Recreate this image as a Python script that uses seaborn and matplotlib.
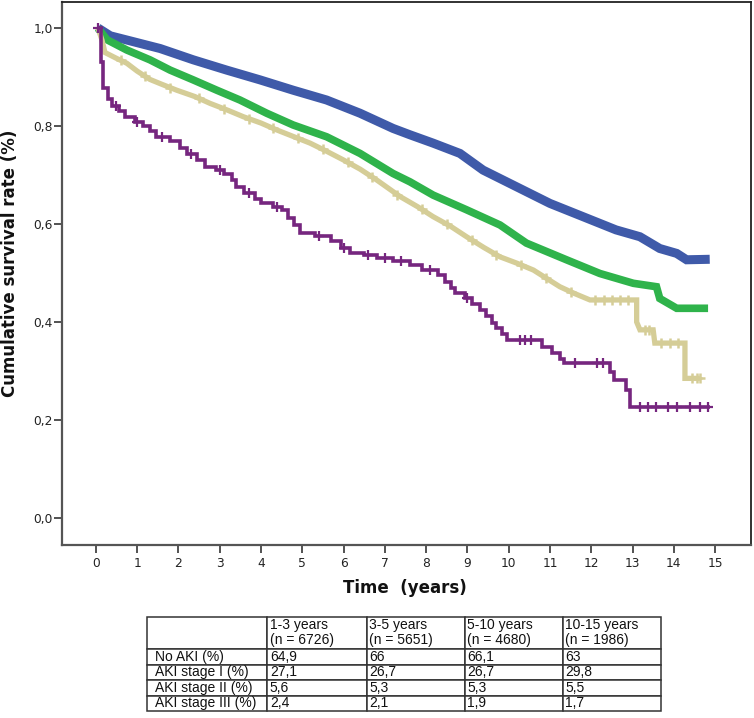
import numpy as np
import pandas as pd
import matplotlib
matplotlib.use('Agg')
import matplotlib.pyplot as plt
import seaborn as sns
from matplotlib.ticker import FuncFormatter

# ---------------- data ----------------
groups = ['No AKI', 'AKI stage I', 'AKI stage II', 'AKI stage III']
colors = ['#3f5aa9', '#2fb34b', '#d5cd97', '#76267f']

no_aki_t = [0.05, 0.35, 0.91, 1.56, 2.36, 3.17, 3.98, 4.78, 5.59, 6.40, 7.20, 7.61,
            8.17, 8.82, 9.38, 10.19, 11.00, 11.80, 12.60, 13.18, 13.66, 14.07, 14.31, 14.87]
no_aki_s = [1.000, 0.984, 0.972, 0.958, 0.935, 0.914, 0.894, 0.873, 0.853, 0.826, 0.795, 0.782,
            0.765, 0.744, 0.710, 0.676, 0.642, 0.615, 0.588, 0.574, 0.550, 0.540, 0.527, 0.528]

aki1_t = [0.05, 0.27, 0.75, 1.31, 1.80, 2.36, 2.93, 3.49, 4.14, 4.78, 5.59, 6.40, 7.20, 7.61,
          8.17, 8.98, 9.79, 10.43, 11.40, 12.21, 13.02, 13.58, 13.66, 14.07, 14.83]
aki1_s = [1.000, 0.976, 0.955, 0.935, 0.914, 0.894, 0.873, 0.853, 0.826, 0.802, 0.778, 0.744, 0.703, 0.686,
          0.659, 0.629, 0.598, 0.561, 0.527, 0.499, 0.479, 0.472, 0.448, 0.428, 0.428]

aki2_t = [0.05, 0.15, 0.22, 0.50, 0.75, 1.00, 1.31, 1.60, 1.96, 2.40, 2.77, 3.20, 3.57, 4.00,
          4.38, 4.80, 5.19, 5.60, 5.99, 6.40, 6.80, 7.37, 7.80, 8.17, 8.60, 8.98, 9.40, 9.79,
          10.20, 10.60, 10.90, 11.24, 11.60, 11.97, 13.10, 13.10, 13.18, 13.50, 13.54, 14.27,
          14.27, 14.63]
aki2_s = [1.000, 0.975, 0.950, 0.938, 0.928, 0.912, 0.895, 0.885, 0.873, 0.860, 0.846, 0.832, 0.819, 0.806,
          0.792, 0.778, 0.765, 0.748, 0.731, 0.712, 0.690, 0.656, 0.635, 0.615, 0.595, 0.574, 0.552, 0.533,
          0.520, 0.506, 0.490, 0.472, 0.458, 0.445, 0.445, 0.400, 0.384, 0.384, 0.357, 0.357,
          0.285, 0.285]

aki3_t = [0.05, 0.12, 0.18, 0.30, 0.40, 0.55, 0.70, 0.95, 1.15, 1.30, 1.45, 1.80, 2.05, 2.20,
          2.45, 2.65, 2.90, 3.10, 3.30, 3.40, 3.60, 3.85, 4.00, 4.30, 4.50, 4.65, 4.80, 4.95,
          5.30, 5.70, 5.95, 6.15, 6.50, 6.80, 7.20, 7.60, 7.90, 8.30, 8.45, 8.60, 8.70, 8.95,
          9.10, 9.30, 9.45, 9.60, 9.70, 9.85, 9.95, 10.80, 11.05, 11.25, 11.35, 12.45, 12.55,
          12.85, 12.95, 14.87]
aki3_s = [1.000, 0.930, 0.877, 0.855, 0.840, 0.830, 0.818, 0.808, 0.800, 0.790, 0.778, 0.770, 0.756, 0.742,
          0.730, 0.716, 0.710, 0.703, 0.690, 0.676, 0.664, 0.650, 0.642, 0.635, 0.628, 0.612, 0.598, 0.582,
          0.575, 0.565, 0.552, 0.540, 0.536, 0.530, 0.525, 0.516, 0.506, 0.495, 0.482, 0.470, 0.460, 0.448,
          0.436, 0.425, 0.412, 0.398, 0.388, 0.375, 0.363, 0.350, 0.336, 0.325, 0.316, 0.298, 0.282,
          0.262, 0.227, 0.227]

# censoring marks (times) on the curves
aki3_censor = [0.05, 0.5, 1.0, 1.6, 2.3, 3.0, 3.7, 4.4, 5.4, 6.0, 6.6, 7.0, 7.4, 8.1, 9.0,
               10.27, 10.39, 10.55, 11.6, 12.13, 12.29,
               13.18, 13.38, 13.58, 13.86, 14.07, 14.39, 14.63, 14.83]
aki2_censor = [0.6, 1.2, 1.8, 2.5, 3.1, 3.7, 4.3, 4.9, 5.5, 6.1, 6.7, 7.3, 7.9, 8.5, 9.1, 9.7,
               10.3, 10.9, 11.5, 12.1, 12.3, 12.5, 12.7, 12.9, 13.3, 13.4, 13.7, 13.9, 14.1,
               14.45, 14.55, 14.63]

# table
col_labels = ['', '1-3 years\n(n = 6726)', '3-5 years\n(n = 5651)',
              '5-10 years\n(n = 4680)', '10-15 years\n(n = 1986)']
row_labels = ['No AKI (%)', 'AKI stage I (%)', 'AKI stage II (%)', 'AKI stage III (%)']
pct_no_aki = ['64,9', '66', '66,1', '63']
pct_aki1 = ['27,1', '26,7', '26,7', '29,8']
pct_aki2 = ['5,6', '5,3', '5,3', '5,5']
pct_aki3 = ['2,4', '2,1', '1,9', '1,7']

# ---------------- figure ----------------
sns.set_style('ticks')
plt.rcParams['font.family'] = ['DejaVu Sans']

W, H = 754, 718
fig = plt.figure(figsize=(W / 100, H / 100), dpi=100)
ax = fig.add_axes([62 / W, 1 - 545 / H, (751 - 62) / W, (545 - 2) / H])

series = [(no_aki_t, no_aki_s), (aki1_t, aki1_s), (aki2_t, aki2_s), (aki3_t, aki3_s)]
lws = [6.5, 5.5, 3.8, 2.6]
for i, (g, (t, s)) in enumerate(zip(groups, series)):
    df = pd.DataFrame({'time': t, 'surv': s})
    kw = dict(drawstyle='steps-post') if g == 'AKI stage III' else {}
    sns.lineplot(data=df, x='time', y='surv', ax=ax, color=colors[i], lw=lws[i],
                 estimator=None, sort=False, solid_capstyle='butt', solid_joinstyle='miter',
                 legend=False, **kw)

# censor marks
t2 = np.array(aki2_t); s2 = np.array(aki2_s)
c2 = np.array(aki2_censor)
y2 = np.interp(c2, t2, s2)
sns.scatterplot(x=c2, y=y2, ax=ax, marker='+', s=60, color=colors[2], linewidth=1.8, zorder=4)

t3 = np.array(aki3_t); s3 = np.array(aki3_s)
c3 = np.array(aki3_censor)
idx = np.clip(np.searchsorted(t3, c3, side='right') - 1, 0, len(t3) - 1)
sns.scatterplot(x=c3, y=s3[idx], ax=ax, marker='+', s=55, color=colors[3], linewidth=1.6, zorder=5)

ax.set_xlim(-0.82, 15.87)
ax.set_ylim(-0.055, 1.053)
ax.set_xticks(range(16))
ax.set_yticks(np.arange(0, 1.01, 0.2))
ax.yaxis.set_major_formatter(FuncFormatter(lambda v, p: f'{v:.1f}'.replace('.', ',')))
ax.tick_params(axis='both', direction='out', length=5.5, width=1.3, color='#444',
               labelsize=8.8, labelcolor='#222')
ax.tick_params(axis='y', pad=1.0)
ax.tick_params(axis='x', pad=3.0)
for side in ['left', 'bottom']:
    ax.spines[side].set_color('#555')
    ax.spines[side].set_linewidth(1.6)
for side in ['top', 'right']:
    ax.spines[side].set_visible(True)
    ax.spines[side].set_color('#222')
    ax.spines[side].set_linewidth(1.3)

ax.set_xlabel('Time  (years)', fontsize=12, fontweight='bold', color='#111', va='center')
ax.xaxis.set_label_coords((405 - 62) / 689, (545 - 588) / 543)
ax.set_ylabel('Cumulative survival rate (%)', fontsize=12, fontweight='bold', color='#111',
              va='center')
ax.yaxis.set_label_coords((10 - 62) / 689, (545 - 263) / 543)

# ---------------- table ----------------
tax = fig.add_axes([146.7 / W, 1 - 711 / H, (661 - 146.7) / W, (711 - 616.7) / H])
tax.axis('off')
cell_text = [col_labels]
for r, vals in zip(row_labels, [pct_no_aki, pct_aki1, pct_aki2, pct_aki3]):
    cell_text.append([r] + vals)
tbl = tax.table(cellText=cell_text, cellLoc='left',
                colWidths=[120.6, 99.4, 98.3, 98.0, 98.0], bbox=[0, 0, 1, 1])
tbl.auto_set_font_size(False)
tbl.set_fontsize(10)
for (r, c), cell in tbl.get_celld().items():
    cell.set_height(2.1 if r == 0 else 1.0)
    cell.set_linewidth(1.1)
    cell.set_edgecolor('#333')
    cell.PAD = 0.065 if c == 0 else 0.025
    txt = cell.get_text()
    txt.set_fontfamily(['Liberation Sans', 'DejaVu Sans'])
    txt.set_color('#111')
    txt.set_linespacing(1.1)

fig.savefig('out.png', dpi=100)
